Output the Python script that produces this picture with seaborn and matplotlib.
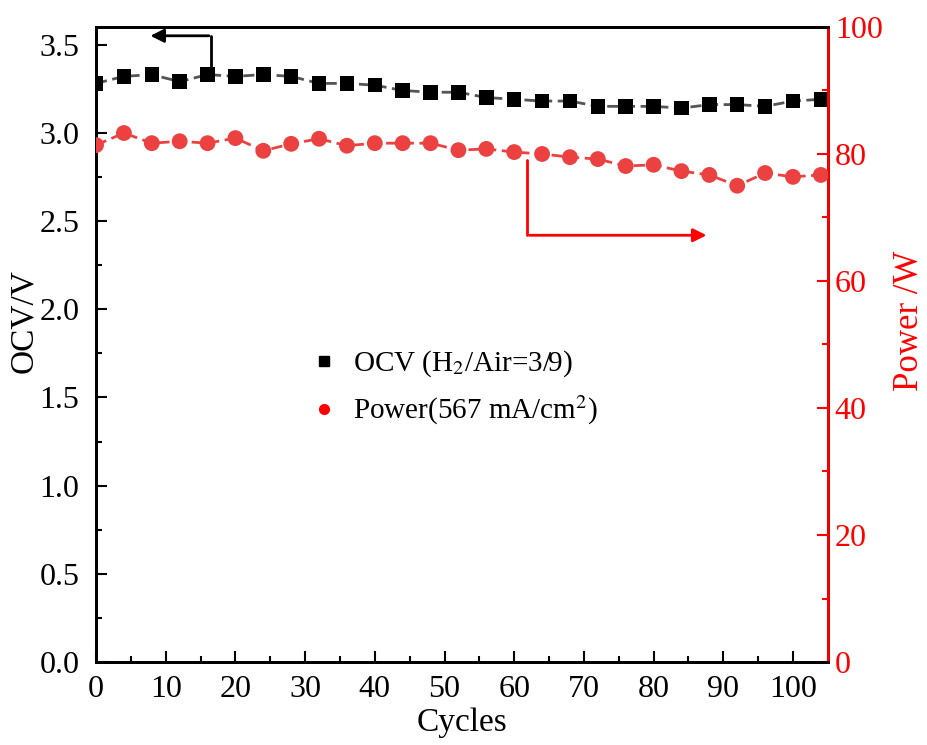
import numpy as np
import pandas as pd
import seaborn as sns
import matplotlib.pyplot as plt
from matplotlib.lines import Line2D
from matplotlib.ticker import MultipleLocator

# cycle number, every 4 cycles
cycles = [0, 4, 8, 12, 16, 20, 24, 28, 32, 36, 40, 44, 48, 52,
          56, 60, 64, 68, 72, 76, 80, 84, 88, 92, 96, 100, 104]
# open circuit voltage (V)
ocv = [3.28, 3.32, 3.33, 3.29, 3.33, 3.32, 3.33, 3.32, 3.28, 3.28, 3.27, 3.24, 3.23, 3.23,
       3.20, 3.19, 3.18, 3.18, 3.15, 3.15, 3.15, 3.14, 3.16, 3.16, 3.15, 3.18, 3.19]
# stack power at 567 mA/cm2 (W)
power = [81.4, 83.3, 81.7, 82.0, 81.7, 82.5, 80.5, 81.6, 82.4, 81.3, 81.7, 81.7, 81.7, 80.6,
         80.8, 80.3, 80.0, 79.5, 79.2, 78.1, 78.3, 77.3, 76.7, 75.0, 77.0, 76.4, 76.7]

df = pd.DataFrame({"Cycles": cycles, "OCV": ocv, "Power": power})

sns.set_style("ticks")
plt.rcParams['font.family'] = ['Liberation Serif', 'DejaVu Serif']
plt.rcParams['mathtext.fontset'] = 'stix'
plt.rcParams['xtick.direction'] = 'in'
plt.rcParams['ytick.direction'] = 'in'
for k in ['text.color', 'axes.labelcolor', 'xtick.color', 'ytick.color', 'axes.edgecolor']:
    plt.rcParams[k] = 'black'

red = '#ff0000'
red_pts = '#ec4141'

fig = plt.figure(figsize=(9.27, 7.45), dpi=100)
ax = fig.add_axes([0.1036, 0.1114, 0.7894, 0.8524])
ax2 = ax.twinx()

# OCV on left axis
sns.lineplot(data=df, x="Cycles", y="OCV", ax=ax, color='#555555', linestyle=(0, (4, 2)), linewidth=2)
sns.scatterplot(data=df, x="Cycles", y="OCV", ax=ax, marker='s', color='black', s=110,
                edgecolor='none', zorder=3)

# Power on right axis
sns.lineplot(data=df, x="Cycles", y="Power", ax=ax2, color=red_pts, linestyle=(0, (4, 2)), linewidth=2)
sns.scatterplot(data=df, x="Cycles", y="Power", ax=ax2, marker='o', color=red_pts, s=130,
                edgecolor='none', zorder=3)

ax.set_xlim(0, 105)
ax.set_ylim(0, 3.6)
ax2.set_ylim(0, 100)

ax.xaxis.set_major_locator(MultipleLocator(10))
ax.xaxis.set_minor_locator(MultipleLocator(5))
ax.yaxis.set_major_locator(MultipleLocator(0.5))
ax.yaxis.set_minor_locator(MultipleLocator(0.25))
ax2.yaxis.set_major_locator(MultipleLocator(20))
ax2.yaxis.set_minor_locator(MultipleLocator(10))
ax.yaxis.set_major_formatter(plt.FormatStrFormatter('%.1f'))

ax.tick_params(axis='both', which='major', length=8, width=1.5, labelsize=23)
ax.tick_params(axis='y', pad=12)
ax.tick_params(axis='x', pad=9)
ax.tick_params(axis='both', which='minor', length=4, width=1.5)
ax.tick_params(top=False, right=False, which='both')
ax2.tick_params(axis='y', which='major', length=8, width=1.5, colors=red, labelsize=23, pad=5)
ax2.tick_params(axis='y', which='minor', length=4, width=1.5, colors=red)

for sp in ax.spines.values():
    sp.set_linewidth(2)
for sp in ax2.spines.values():
    sp.set_linewidth(2)
ax2.spines['right'].set_color(red)

ax.set_xlabel("Cycles", fontsize=24)
ax.set_ylabel("OCV/V", fontsize=24)
ax2.set_ylabel("Power /W", fontsize=25, color=red)
ax.xaxis.set_label_coords(0.5, -0.071)
ax.yaxis.set_label_coords(-0.078, 0.537)
ax2.yaxis.set_label_coords(1.089, 0.537)

# arrows pointing to each axis
ax.plot([16.5, 16.5], [3.37, 3.55], color='black', lw=2)
ax.annotate("", xy=(7.4, 3.55), xytext=(16.6, 3.55),
            arrowprops=dict(arrowstyle='-|>', color='black', lw=2, mutation_scale=20))
ax2.plot([61.9, 61.9], [79.1, 67.2], color=red, lw=2)
ax2.annotate("", xy=(88.0, 67.2), xytext=(61.8, 67.2),
             arrowprops=dict(arrowstyle='-|>', color=red, lw=2, mutation_scale=20))

handles = [Line2D([], [], marker='s', color='black', linestyle='none', markersize=7),
           Line2D([], [], marker='o', color=red, linestyle='none', markersize=7)]
labels = ["OCV (H$_2$/Air=3/9)", "Power(567 mA/cm$^2$)"]
ax2.legend(handles, labels, loc='upper left', bbox_to_anchor=(0.252, 0.535), frameon=False,
           fontsize=21, handletextpad=0.4, labelspacing=0.5, handlelength=1.2)

fig.savefig("out.png", dpi=100)
